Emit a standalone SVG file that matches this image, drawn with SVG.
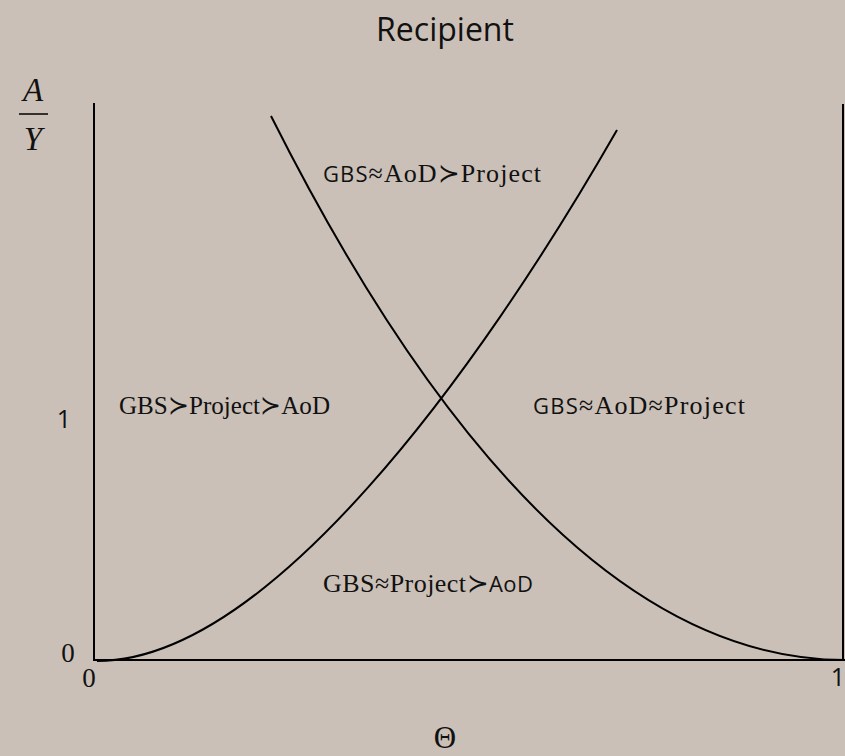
<svg xmlns="http://www.w3.org/2000/svg" width="845" height="756" viewBox="0 0 845 756">
<style>
.ax{stroke:#000;stroke-width:2;fill:none}
.cv{stroke:#000;stroke-width:2;fill:none}
.lbl{font-family:"Liberation Serif","DejaVu Serif",serif;font-size:26px;fill:#111}
.sf{font-family:"Open Sans","Liberation Sans",sans-serif;font-size:22px}
.num{font-family:"Open Sans","Liberation Sans",sans-serif;font-size:25px;fill:#111}
.ser{font-family:"Liberation Serif","DejaVu Serif",serif;fill:#111}
</style>
<rect width="845" height="756" fill="#cbc0b7"/>
<text x="445" y="41" text-anchor="middle" font-family="'Open Sans','Liberation Sans',sans-serif" font-size="32" fill="#111">Recipient</text>
<g id="axes">
<path class="ax" d="M94,103 V660 H843 V104"/>
</g>
<g id="connectors">
<path id="rising" class="cv" d="M97,661 C267,661 477,374.4 617,130"/>
<path id="falling" class="cv" d="M271,116 C453.3,478.7 644.5,660 845,660"/>
</g>
<g id="yaxislabel">
<text class="ser" x="33" y="101" text-anchor="middle" font-size="33" font-style="italic">A</text>
<line x1="19" y1="114" x2="48" y2="114" stroke="#000" stroke-width="1.5"/>
<text class="ser" x="33" y="150" text-anchor="middle" font-size="33" font-style="italic">Y</text>
</g>
<g id="ticks">
<text class="num" x="64" y="428" text-anchor="middle">1</text>
<text class="ser" x="68" y="662" text-anchor="middle" font-size="27">0</text>
<text class="ser" x="89" y="687" text-anchor="middle" font-size="27">0</text>
<text class="num" x="838" y="686" text-anchor="middle">1</text>
<text class="ser" x="445" y="748" text-anchor="middle" font-size="31">Θ</text>
</g>
<g id="region-top"><text class="lbl" x="323" y="182" textLength="218" lengthAdjust="spacing"><tspan class="sf">GBS</tspan>≈AoD≻Project</text></g>
<g id="region-left"><text class="lbl" x="119" y="414" textLength="211" lengthAdjust="spacingAndGlyphs">GBS≻Project≻AoD</text></g>
<g id="region-right"><text class="lbl" x="533" y="414" textLength="212" lengthAdjust="spacing"><tspan class="sf">GBS</tspan>≈AoD≈Project</text></g>
<g id="region-bottom"><text class="lbl" x="323" y="592" textLength="210" lengthAdjust="spacing">GBS≈Project≻<tspan class="sf">AoD</tspan></text></g>
</svg>
